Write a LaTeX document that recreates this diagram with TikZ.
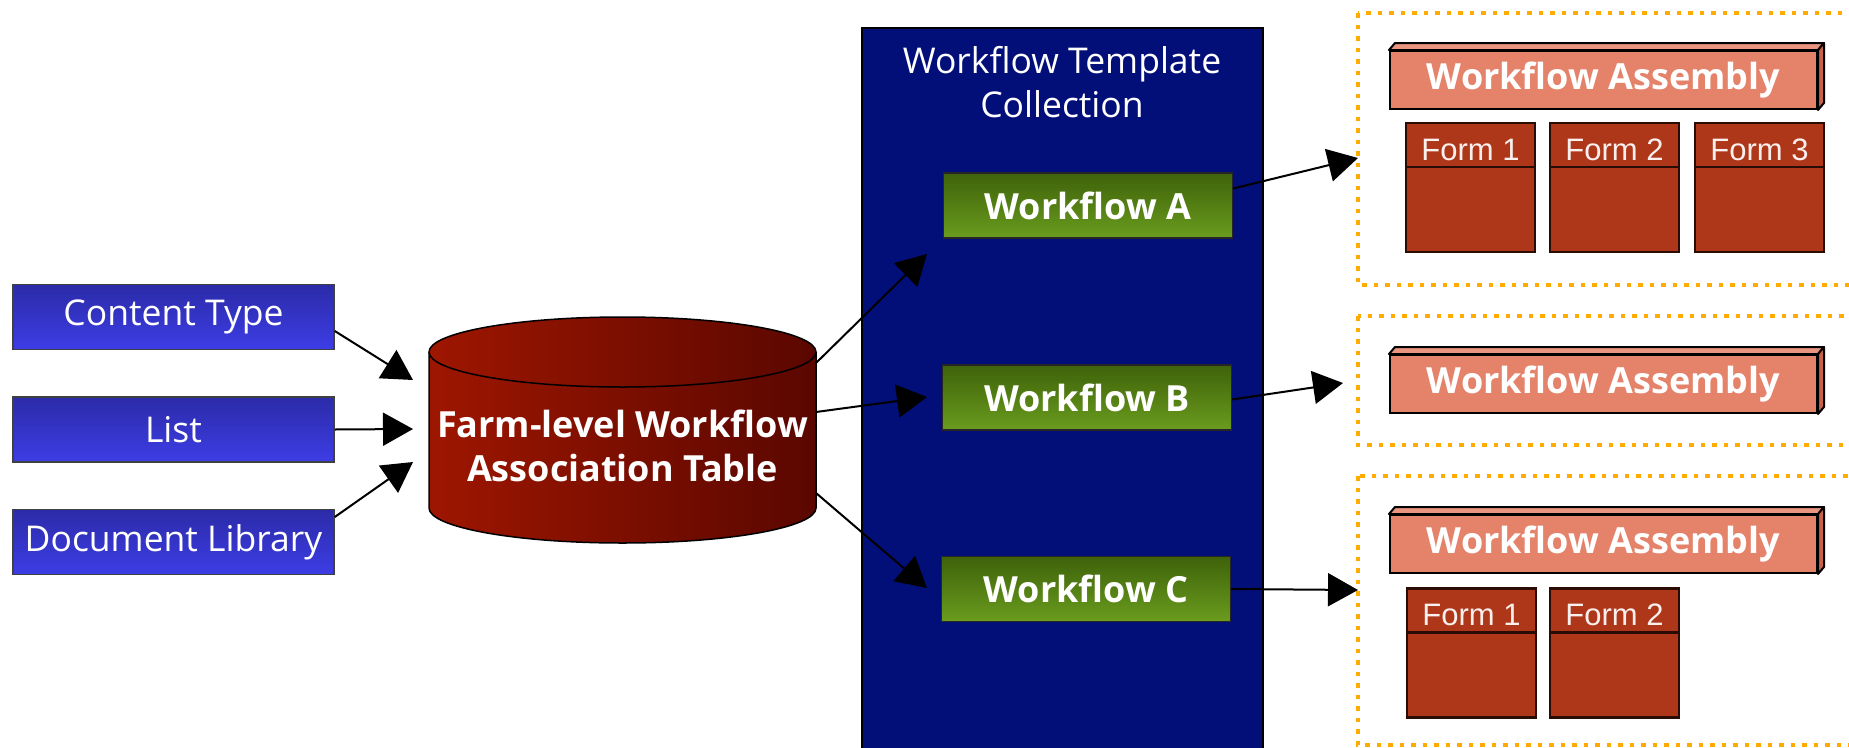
\documentclass[tikz,border=0pt]{standalone}
\usepackage{fontspec}
\setmainfont{Open Sans}
\newfontfamily\arialf{Liberation Sans}
\usetikzlibrary{arrows.meta,calc}
\definecolor{srcTop}{HTML}{2B2BA8}
\definecolor{srcBot}{HTML}{3D3DE6}
\definecolor{wfTop}{HTML}{3E620A}
\definecolor{wfBot}{HTML}{6A9C1E}
\definecolor{cylL}{HTML}{9E1600}
\definecolor{cylR}{HTML}{5A0700}
\definecolor{panelC}{HTML}{030F79}
\definecolor{asmC}{HTML}{E5826A}
\definecolor{asmTop}{HTML}{EA9580}
\definecolor{asmSide}{HTML}{C8614A}
\definecolor{formC}{HTML}{AE371A}
\definecolor{formB}{HTML}{2A0C05}
\definecolor{orangeC}{HTML}{FFAB00}
\tikzset{
  srcbox/.style={draw=black!75, line width=1.5pt, top color=srcTop, bottom color=srcBot,
    minimum width=321pt, minimum height=65pt, inner sep=0pt, text=white,
    font=\fontsize{35.5}{40}\selectfont},
  wfbox/.style={draw=black!85, line width=1.5pt, top color=wfTop, bottom color=wfBot,
    minimum width=289pt, minimum height=65pt, inner sep=0pt, text=white,
    font=\bfseries\fontsize{36}{40}\selectfont},
  asmbox/.style={draw=black, line width=2pt, fill=asmC, minimum width=427pt,
    minimum height=58pt, inner sep=0pt, text=white, font=\bfseries\fontsize{36}{40}\selectfont},
  asmface/.style={draw=black, line width=2pt, line join=round},
  formbox/.style={draw=formB, line width=2.5pt, fill=formC, minimum width=129pt,
    minimum height=129pt, inner sep=0pt},
  formlbl/.style={text=white!92!formC, font=\arialf\fontsize{31}{34}\selectfont, inner sep=0pt},
  orangebox/.style={draw=orangeC, line width=4.5pt, dash pattern=on 4.5pt off 7pt},
  arr/.style={line width=2pt, -{Triangle[length=30pt,width=33pt]}},
}
\begin{document}
\begin{tikzpicture}[x=1pt,y=-1pt]
\clip (0,0) rectangle (1849,747);
\fill[white] (0,0) rectangle (1849,747);

% source boxes
\node[srcbox] (ct) at (173.5,317) {Content Type};
\node[srcbox] (lst) at (173.5,429.5) {List};
\node[srcbox] (dl) at (173.5,542) {Document Library};

% cylinder
\shade[left color=cylL, right color=cylR, draw=black, line width=1.5pt]
  (429,352) -- (429,508) arc[start angle=180, end angle=360, x radius=193.5pt, y radius=35pt]
  -- (816,352) arc[start angle=0, end angle=180, x radius=193.5pt, y radius=35pt] -- cycle;
\draw[line width=1.5pt] (429,352) arc[start angle=180, end angle=360, x radius=193.5pt, y radius=35pt];
\node[text=white, align=center, font=\bfseries\fontsize{36}{44}\selectfont] (cyl) at (622.5,446)
  {Farm-level Workflow\\Association Table};
\coordinate (cylIn1) at (413,380);
\coordinate (cylIn2) at (413,429);
\coordinate (cylIn3) at (413,462);
\coordinate (cylOut1) at (816,363);
\coordinate (cylOut2) at (816,412);
\coordinate (cylOut3) at (816,493);

% panel
\node[draw=black, line width=2pt, fill=panelC, minimum width=401pt, minimum height=732pt, inner sep=0pt]
  (panel) at (1062.5,394) {};
\node[text=white, align=center, font=\fontsize{35.5}{44}\selectfont] (ttl) at (1062,82)
  {Workflow Template\\Collection};

\node[wfbox] (wa) at (1088,205.5) {Workflow A};
\node[wfbox] (wb) at (1087,397.5) {Workflow B};
\node[wfbox] (wc) at (1086,589) {Workflow C};

\coordinate (tWA) at (927,254);
\coordinate (tWB) at (927,397);
\coordinate (tWC) at (927,588);

% orange groups
\draw[orangebox] (1358,13) rectangle (1880,285);
\draw[orangebox] (1358,316) rectangle (1880,445);
\draw[orangebox] (1358,476) rectangle (1880,745);

\coordinate (tG1) at (1358,158);
\coordinate (tG2) at (1343,383);
\coordinate (tG3) at (1358,590);

% assemblies
\foreach \n/\y in {asmA/80, asmB/384, asmC/544}{
  \node[asmbox] (\n) at (1603.5,\y) {Workflow Assembly};
  \filldraw[asmface, fill=asmTop] (\n.north west) -- ([xshift=6pt,yshift=7pt]\n.north west)
    -- ([xshift=6pt,yshift=7pt]\n.north east) -- (\n.north east) -- cycle;
  \filldraw[asmface, fill=asmSide] (\n.north east) -- ([xshift=6pt,yshift=7pt]\n.north east)
    -- ([xshift=6pt,yshift=7pt]\n.south east) -- (\n.south east) -- cycle;
}

% forms
\foreach \n/\x/\y/\t in {fa1/1470.5/187.5/Form 1, fa2/1614.5/187.5/Form 2, fa3/1759.5/187.5/Form 3,
  fc1/1471.5/653/Form 1, fc2/1614.5/653/Form 2}{
  \node[formbox] (\n) at (\x,\y) {};
  \draw[formB, line width=2.5pt] ([yshift=-45pt]\n.north west) -- ([yshift=-45pt]\n.north east);
  \node[formlbl] (\n-l) at ([yshift=-28pt]\n.north) {\t};
}

% connectors
\draw[arr] ([yshift=-14pt]ct.east) -- (cylIn1);
\draw[arr] (lst.east) -- (cylIn2);
\draw[arr] ([yshift=25pt]dl.east) -- (cylIn3);
\draw[arr] (cylOut1) -- (tWA);
\draw[arr] (cylOut2) -- (tWB);
\draw[arr] (cylOut3) -- (tWC);
\draw[arr] ([yshift=17pt]wa.east) -- (tG1);
\draw[arr] ([yshift=-2pt]wb.east) -- (tG2);
\draw[arr] (wc.east) -- (tG3);
\end{tikzpicture}
\end{document}
